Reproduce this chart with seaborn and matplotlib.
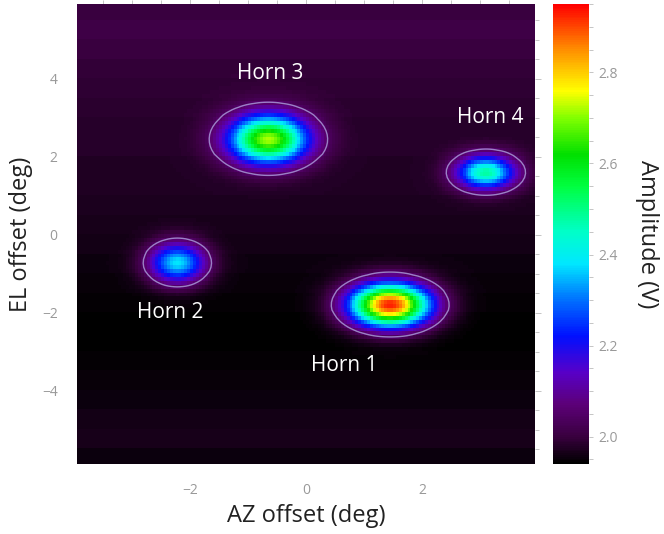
import numpy as np
import pandas as pd
import matplotlib
matplotlib.use("Agg")
import matplotlib.pyplot as plt
import seaborn as sns
from matplotlib.colors import LinearSegmentedColormap
from matplotlib.ticker import FixedLocator

# horn beam parameters
horn_names = ["Horn 1", "Horn 2", "Horn 3", "Horn 4"]
horn_az = [1.45, -2.22, -0.65, 3.10]
horn_el = [-1.80, -0.72, 2.45, 1.60]
horn_peak = [2.93, 2.38, 2.72, 2.48]
horn_sig_az = [0.48, 0.34, 0.47, 0.35]
horn_sig_el = [0.39, 0.36, 0.43, 0.30]

# label positions (deg)
label_az = [0.66, -2.34, -0.62, 3.17]
label_el = [-3.36, -2.00, 4.13, 3.00]

# background level per 0.5 deg elevation band, top (6 deg) to bottom (-6 deg)
band_bg = [2.00, 2.01, 2.00, 1.995, 1.99, 1.985, 1.98, 1.98, 1.975, 1.975, 1.97, 1.965,
           1.96, 1.955, 1.95, 1.945, 1.94, 1.94, 1.945, 1.95, 1.955, 1.96, 1.965, 1.955]

vmin, vmax = 1.94, 2.95
contour_level = 2.05

# colour stops (value, colour)
cstops = [(1.94, "#000000"), (2.00, "#3a0040"), (2.07, "#5c0078"), (2.14, "#5800c8"),
          (2.22, "#0010ff"), (2.30, "#0070ff"), (2.38, "#00e8ff"), (2.45, "#00ffc8"),
          (2.55, "#00ff40"), (2.62, "#00e000"), (2.70, "#80ff00"), (2.76, "#ffff00"),
          (2.85, "#ff9000"), (2.95, "#ff0000")]
cmap = LinearSegmentedColormap.from_list(
    "beam", [((v - vmin) / (vmax - vmin), c) for v, c in cstops])

# map grid
x_left, x_right, dx = -3.95, 3.95, 0.05
y_top, y_bot, dy = 5.92, -5.88, 0.1
az = x_left + dx * (np.arange(int(round((x_right - x_left) / dx))) + 0.5)
el = y_top - dy * (np.arange(int(round((y_top - y_bot) / dy))) + 0.5)
AZ, EL = np.meshgrid(az, el)

band_idx = np.clip(((6.0 - el) / 0.5).astype(int), 0, len(band_bg) - 1)
bg = np.array(band_bg)[band_idx][:, None] * np.ones_like(AZ)
amp = bg.copy()
for a, e, p, sa, se in zip(horn_az, horn_el, horn_peak, horn_sig_az, horn_sig_el):
    amp += (p - bg) * np.exp(-((AZ - a) ** 2 / (2 * sa ** 2) + (EL - e) ** 2 / (2 * se ** 2)))

df = pd.DataFrame(amp, index=np.round(el, 2), columns=np.round(az, 3))

sns.set_style("white")
plt.rcParams['font.family'] = ["Open Sans", "DejaVu Sans"]

fig = plt.figure(figsize=(6.64, 5.34), dpi=100)
ax = fig.add_axes([0.116, 0.131, 0.690, 0.8615])
cax = fig.add_axes([0.833, 0.131, 0.054, 0.8615])

sns.heatmap(df, ax=ax, cbar_ax=cax, cmap=cmap, vmin=vmin, vmax=vmax,
            xticklabels=False, yticklabels=False, rasterized=True)


def to_cx(x):
    return (np.asarray(x) - x_left) / dx


def to_cy(y):
    return (y_top - np.asarray(y)) / dy


ax.contour(np.arange(len(az)) + 0.5, np.arange(len(el)) + 0.5, amp,
           levels=[contour_level], colors="#a898d8", linewidths=1.0, alpha=0.85)

for name, a, e in zip(horn_names, label_az, label_el):
    ax.text(to_cx(a), to_cy(e), name, color="white", fontsize=15,
            ha="center", va="center")

ax.set_xticks(to_cx([-2, 0, 2]))
ax.set_xticklabels(["\u22122", "0", "2"])
ax.set_yticks(to_cy([4, 2, 0, -2, -4]))
ax.set_yticklabels(["4", "2", "0", "\u22122", "\u22124"])
ax.xaxis.set_minor_locator(FixedLocator(to_cx(np.arange(-3.5, 4.0, 0.5))))
ax.yaxis.set_minor_locator(FixedLocator(to_cy(np.arange(-5.5, 6.0, 0.5))))
ax.tick_params(which="both", direction="out", color="#bbbbbb", labelcolor="#999999",
               labelsize=10, top=True, right=True, length=3, width=0.6)
ax.tick_params(which="major", length=4)
ax.tick_params(axis="x", pad=10)
ax.tick_params(axis="y", pad=10)
for s in ax.spines.values():
    s.set_visible(False)

ax.set_xlabel("AZ offset (deg)", fontsize=17, color="#222222", labelpad=4)
ax.set_ylabel("EL offset (deg)", fontsize=17, color="#222222", labelpad=6)

cax.set_yticks([2.0, 2.2, 2.4, 2.6, 2.8])
cax.set_yticklabels(["2.0", "2.2", "2.4", "2.6", "2.8"])
cax.yaxis.set_minor_locator(FixedLocator(np.arange(1.95, 2.95, 0.05)))
cax.tick_params(which="both", direction="out", color="#bbbbbb", labelcolor="#999999",
                labelsize=10, length=3, width=0.6)
cax.set_ylabel("Amplitude (V)", fontsize=17, rotation=270, labelpad=30, color="#222222")

fig.savefig("out.png", dpi=100)
